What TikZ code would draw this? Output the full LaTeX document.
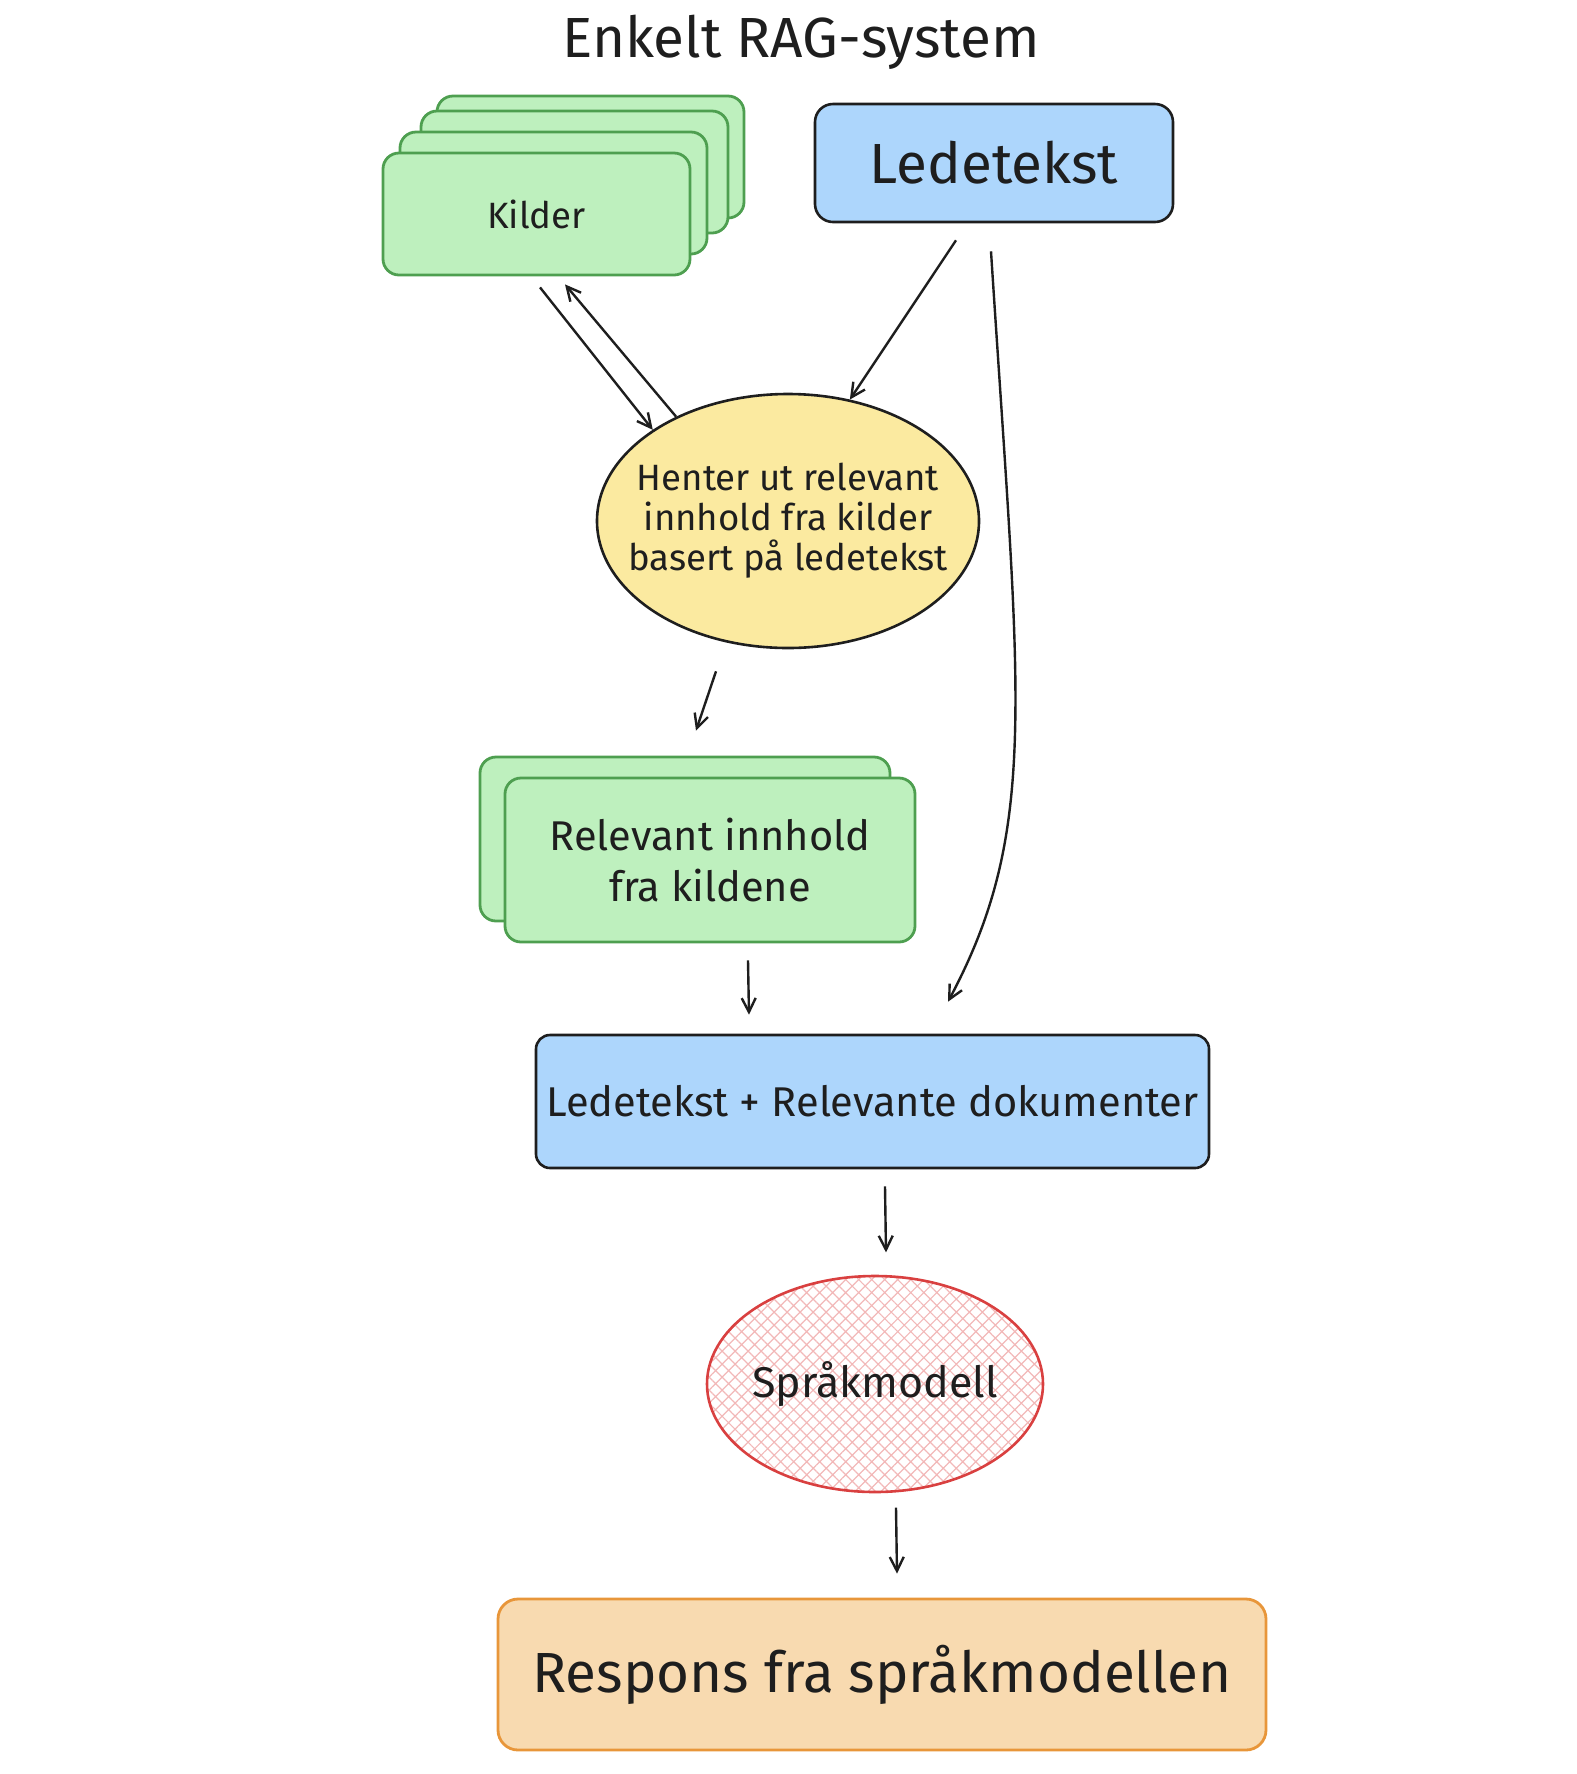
\documentclass[tikz,border=0pt]{standalone}
\usepackage{fontspec}
\setmainfont{Fira Sans}
\usetikzlibrary{arrows.meta}
\usetikzlibrary{positioning,
                shapes.geometric,
                shadows,
                patterns.meta}

\definecolor{srcgreen}{HTML}{BEF0BE}
\definecolor{srcgreenline}{HTML}{4E9F50}
\definecolor{promptblue}{HTML}{ADD6FC}
\definecolor{retryellow}{HTML}{FBEAA0}
\definecolor{llmred}{HTML}{D94040}
\definecolor{llmhatch}{HTML}{F2B8B8}
\definecolor{outorange}{HTML}{F8DAB0}
\definecolor{outorangeline}{HTML}{E8963A}
\definecolor{inkblack}{HTML}{1E1E1E}

\begin{document}
\begin{tikzpicture}[
        x=0.5pt, y=-0.5pt,
        every node/.style={align=center, text=inkblack, inner sep=0pt},
        textsmall/.style={font=\fontsize{18.3}{20}\selectfont},
        textmedium/.style={font=\fontsize{20.8}{25.5}\selectfont},
        textlarge/.style={font=\fontsize{28.3}{34}\selectfont},
        greenbox/.style={draw=srcgreenline, fill=srcgreen, line width=1.4pt, rounded corners=8pt},
        bluebox/.style={draw=inkblack, fill=promptblue, line width=1.3pt, rounded corners=9pt},
        ovalbox/.style={ellipse, line width=1.3pt, inner xsep=-15pt},
        flow/.style={-{Straight Barb[length=7pt, width=7pt]}, line width=1.2pt, draw=inkblack}
        ]
        \useasboundingbox (0,0) rectangle (1576,1774);

        % Nodes
        \node[textlarge] (title) at (801,42) {Enkelt RAG-system};
        \node[greenbox, textsmall, minimum width=153.5pt, minimum height=61pt,
              copy shadow={shadow xshift=27pt, shadow yshift=28.5pt},
              copy shadow={shadow xshift=19pt, shadow yshift=21pt},
              copy shadow={shadow xshift=8.5pt, shadow yshift=10.5pt}] (kilder) at (536.5,214) {Kilder};
        \node[bluebox, textlarge, minimum width=179pt, minimum height=59pt] (ledetekst) at (994,163) {Ledetekst};
        \node[ovalbox, draw=inkblack, fill=retryellow, textsmall, minimum width=191pt, minimum height=127pt] (henter) at (788,521) {Henter ut relevant\\innhold fra kilder\\basert på ledetekst};
        \node[greenbox, textmedium, minimum width=205pt, minimum height=82pt,
              copy shadow={shadow xshift=-12.5pt, shadow yshift=10.5pt}] (relevant) at (710,860) {Relevant innhold\\fra kildene};
        \node[bluebox, textmedium, rounded corners=7pt, minimum width=336.5pt, minimum height=66.5pt] (kombinert) at (872.5,1101.5) {Ledetekst + Relevante dokumenter};
        \node[ovalbox, draw=llmred, pattern={Hatch[angle=45, distance=4.6pt, line width=0.6pt]}, pattern color=llmhatch,
              font=\fontsize{21.5}{25.5}\selectfont, minimum width=168pt, minimum height=108pt] (sprak) at (875,1384) {Språkmodell};
        \node[draw=outorangeline, fill=outorange, line width=1.4pt, rounded corners=10pt, textlarge,
              minimum width=384pt, minimum height=75.5pt] (respons) at (882,1674.5) {Respons fra språkmodellen};

        % Arrows
        \draw[flow] ([shift={(3.5,11)}]kilder.south) -- (henter.146);
        \draw[flow] (henter.137) -- ([shift={(28.5,8)}]kilder.south);
        \draw[flow] ([shift={(-38,17)}]ledetekst.south) -- (henter.63);
        \draw[flow] ([shift={(-3,28)}]ledetekst.south) .. controls +(29,450) and +(92,-173) .. ([shift={(75.5,-32)}]kombinert.north);
        \draw[flow] ([shift={(-72,22)}]henter.south) -- ([shift={(-14,-46)}]relevant.north);
        \draw[flow] ([shift={(38,17)}]relevant.south) -- ([shift={(-123.5,-19)}]kombinert.north);
        \draw[flow] ([shift={(12.5,17)}]kombinert.south) -- ([shift={(11,-23)}]sprak.north);
        \draw[flow] ([shift={(21,15)}]sprak.south) -- ([shift={(15,-24)}]respons.north);

\end{tikzpicture}
\end{document}
